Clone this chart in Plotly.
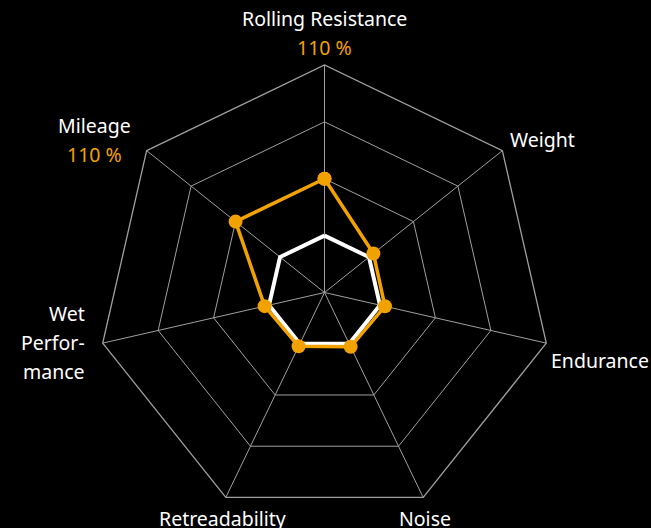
import math
import plotly.graph_objects as go

categories = ["Rolling Resistance", "Weight", "Endurance", "Noise",
              "Retreadability", "Wet Performance", "Mileage"]
# label lines per category (white text), optional highlighted value (orange)
label_lines = [
    ["Rolling Resistance"],
    ["Weight"],
    ["Endurance"],
    ["Noise"],
    ["Retreadability"],
    ["Wet", "Perfor-", "mance"],
    ["Mileage"],
]
highlight = ["110 %", None, None, None, None, None, "110 %"]
baseline_values = [100, 100, 100, 100, 100, 100, 100]
product_values = [110, 101, 100.9, 100.6, 100.5, 100.8, 110]

ORANGE = "#F2A200"
GRID = "#a0a0a0"
FONT = "Noto Sans"
FS = 19.5

# label placement: offset (px) of first line from the category vertex, anchor
label_style = [
    dict(dx=0, dy=-47, anchor="center"),
    dict(dx=6, dy=-11, anchor="left"),
    dict(dx=3, dy=17, anchor="left"),
    dict(dx=2, dy=21, anchor="center"),
    dict(dx=-3, dy=21, anchor="center"),
    dict(dx=-16, dy=-30, anchor="right"),
    dict(dx=-52, dy=-25, anchor="center"),
]
LINE_STEP = 29

theta = categories + [categories[0]]

fig = go.Figure()
fig.add_trace(go.Scatterpolar(
    r=baseline_values + [baseline_values[0]], theta=theta,
    mode="lines", line=dict(color="white", width=4),
    showlegend=False, hoverinfo="skip",
))
fig.add_trace(go.Scatterpolar(
    r=product_values + [product_values[0]], theta=theta,
    mode="lines+markers", line=dict(color=ORANGE, width=3.5),
    marker=dict(color=ORANGE, size=14),
    showlegend=False,
))

annotations = []
n = len(categories)
for k, (lines, hi, st) in enumerate(zip(label_lines, highlight, label_style)):
    ang = 2 * math.pi * k / n
    vx = 0.5 + 0.5 * math.sin(ang)
    vy = 0.5 + 0.5 * math.cos(ang)
    items = [(t, "white") for t in lines]
    if hi:
        items.append((hi, ORANGE))
    for i, (txt, col) in enumerate(items):
        annotations.append(dict(
            text=txt, xref="paper", yref="paper", x=vx, y=vy,
            xshift=st["dx"], yshift=-(st["dy"] + i * LINE_STEP),
            xanchor=st["anchor"], yanchor="middle", showarrow=False,
            font=dict(family=FONT, size=FS, color=col),
        ))

fig.update_layout(
    width=651, height=528,
    paper_bgcolor="black", plot_bgcolor="black",
    margin=dict(l=97, r=99, t=65, b=8),
    font=dict(family=FONT, color="white", size=FS),
    annotations=annotations,
    polar=dict(
        bgcolor="black",
        gridshape="linear",
        domain=dict(x=[0, 1], y=[0, 1]),
        radialaxis=dict(
            range=[90, 130], tickvals=[100, 110, 120, 130],
            showticklabels=False, ticks="", showline=False,
            gridcolor=GRID, gridwidth=1.3,
        ),
        angularaxis=dict(
            direction="clockwise", rotation=90,
            tickvals=categories, showticklabels=False,
            ticks="", showline=True, linecolor=GRID, linewidth=1.3,
            gridcolor=GRID, gridwidth=1.3,
        ),
    ),
)

fig.write_html(
    "out.html",
    config={"displayModeBar": False},
    post_script="document.body.style.margin='0';document.body.style.overflow='hidden';",
)
